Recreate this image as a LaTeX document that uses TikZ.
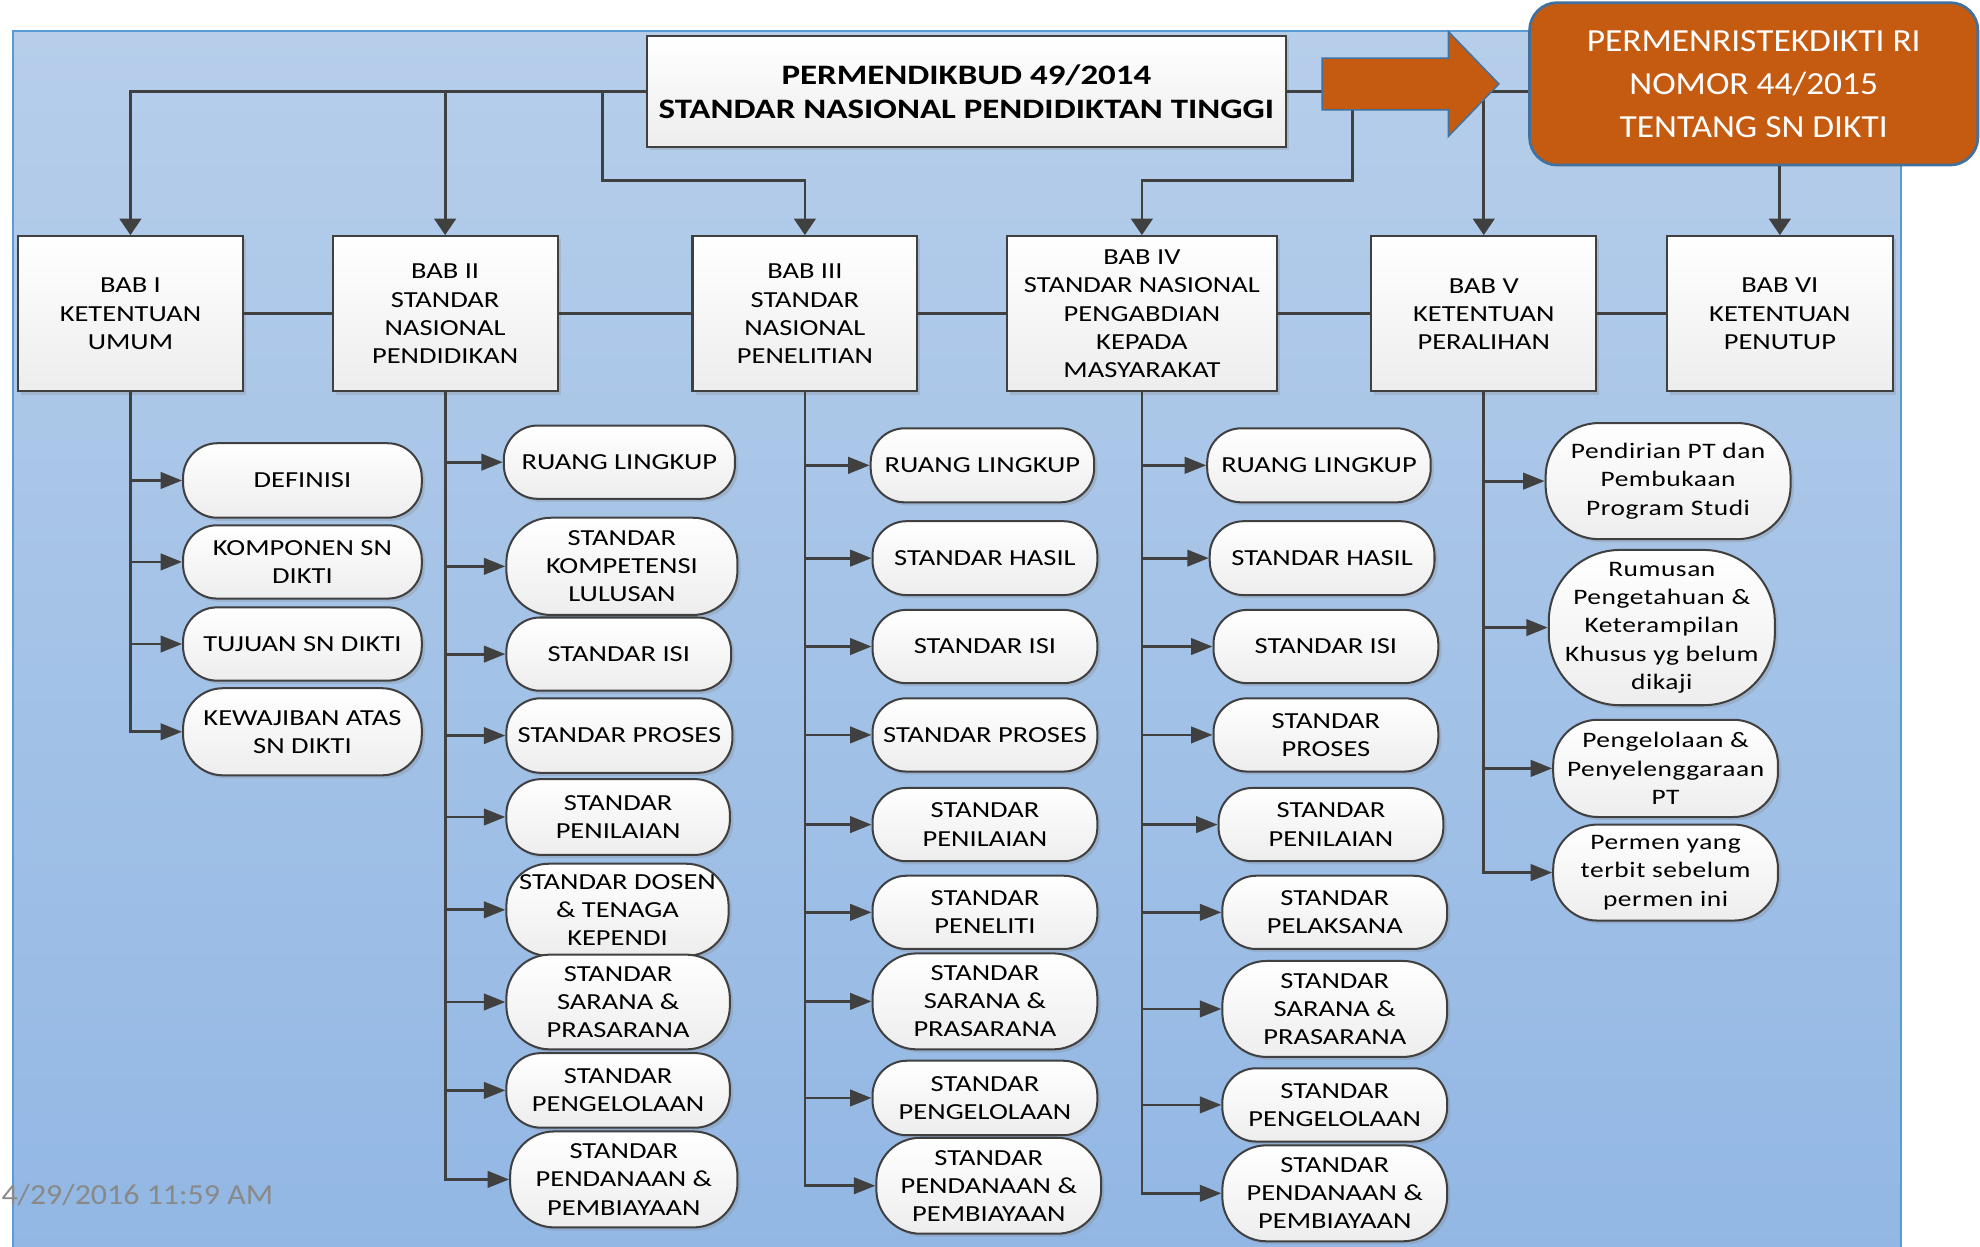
\documentclass[tikz,border=0pt]{standalone}
\usepackage{fontspec}
\setmainfont{Carlito}[FakeStretch=1.24]
\newfontfamily\widefont{Carlito}[FakeStretch=1.24,LetterSpace=2.5]
\newfontfamily\narrowfont{Carlito}[FakeStretch=1.1]
\usetikzlibrary{arrows.meta,shadows}
\definecolor{edge}{RGB}{64,64,64}
\definecolor{panelTop}{RGB}{182,206,234}
\definecolor{panelBot}{RGB}{146,183,228}
\definecolor{panelRim}{RGB}{91,155,213}
\definecolor{rust}{RGB}{197,90,17}
\definecolor{rustRim}{RGB}{65,113,156}
\definecolor{stampGray}{RGB}{137,137,137}
\begin{document}
\begin{tikzpicture}[x=1pt,y=-1pt,
	wire/.style={draw=edge, line width=2.2pt},
	down/.style={wire, -{Triangle[length=13pt,width=17pt]}},
	feed/.style={wire, -{Triangle[length=17pt,width=13pt]}},
	babbox/.style={draw=edge, line width=1.6pt, top color=white, bottom color=black!7, drop shadow={shadow xshift=2.5pt, shadow yshift=-2.5pt, opacity=.25}, align=center, inner sep=0pt, minimum height=123pt, font=\fontsize{18.2}{22.3}\selectfont},
	leaf/.style 2 args={draw=edge, line width=1.6pt, top color=white, bottom color=black!7, drop shadow={shadow xshift=2.5pt, shadow yshift=-2.5pt, opacity=.25}, align=center, inner sep=0pt, minimum width=#1, minimum height=#2, rounded corners=0.46*#2, font=\fontsize{18.2}{22.3}\selectfont},
	talk/.style={font=\widefont\fontsize{17.5}{22.4}\selectfont},
	newreg/.style={draw=rustRim, line width=2.2pt, fill=rust, rounded corners=22pt, text=white, align=center, inner sep=0pt, minimum width=355pt, minimum height=128.6pt, font=\narrowfont\fontsize{25.5}{34}\selectfont}]
	\useasboundingbox (0,0) rectangle (1568,987);
	\path[top color=panelTop, bottom color=panelBot, draw=panelRim, line width=1.5pt] (10,24.5) rectangle (1505.6,1000);
	\node[babbox, minimum width=505.5pt, minimum height=88pt, font=\bfseries\fontsize{22.3}{27}\selectfont] at (765.3,72.6) (old) {PERMENDIKBUD 49/2014\\STANDAR NASIONAL PENDIDIKTAN TINGGI};
	\node[newreg] at (1388.8,66.4) (sn) {PERMENRISTEKDIKTI RI\\NOMOR 44/2015\\TENTANG SN DIKTI};
	\node[babbox, minimum width=178.5pt] at (103.3,248.5) (b1) {BAB I\\KETENTUAN\\UMUM};
	\node[babbox, minimum width=178pt] at (352.5,248.5) (b2) {BAB II\\STANDAR\\NASIONAL\\PENDIDIKAN};
	\node[babbox, minimum width=178pt] at (637.4,248.5) (b3) {BAB III\\STANDAR\\NASIONAL\\PENELITIAN};
	\node[babbox, minimum width=213.5pt] at (904.3,248.5) (b4) {BAB IV\\STANDAR NASIONAL\\PENGABDIAN\\KEPADA\\MASYARAKAT};
	\node[babbox, minimum width=178.3pt] at (1175,248.5) (b5) {BAB V\\KETENTUAN\\PERALIHAN};
	\node[babbox, minimum width=179pt] at (1409.5,248.5) (b6) {BAB VI\\KETENTUAN\\PENUTUP};

	\node[leaf={189}{59}] at (239.5,380.5) (d1) {DEFINISI};
	\node[leaf={189}{58}] at (239.5,445) (d2) {KOMPONEN SN\\DIKTI};
	\node[leaf={189}{58}] at (239.5,510) (d3) {TUJUAN SN DIKTI};
	\node[leaf={189}{69}] at (239.5,579.5) (d4) {KEWAJIBAN ATAS\\SN DIKTI};

	\node[leaf={183}{58}] at (490.5,366) (e1) {RUANG LINGKUP};
	\node[leaf={183}{77}] at (492.5,448.5) (e2) {STANDAR\\KOMPETENSI\\LULUSAN};
	\node[leaf={178}{58}] at (490,518) (e3) {STANDAR ISI};
	\node[leaf={179}{59}] at (490.5,582.5) (e4) {STANDAR PROSES};
	\node[leaf={177}{60}] at (489.5,647) (e5) {STANDAR\\PENILAIAN};
	\node[leaf={176}{73}] at (489,720.5) (e6) {STANDAR DOSEN\\\& TENAGA\\KEPENDI};
	\node[leaf={177}{75}] at (489.5,793.5) (e7) {STANDAR\\SARANA \&\\PRASARANA};
	\node[leaf={177}{59}] at (489.5,863.5) (e8) {STANDAR\\PENGELOLAAN};
	\node[leaf={180}{76}] at (494,934) (e9) {STANDAR\\PENDANAAN \&\\PEMBIAYAAN};

	\node[leaf={177}{58.6}] at (778,368.5) (f1) {RUANG LINGKUP};
	\node[leaf={178}{58.5}] at (780,442) (f2) {STANDAR HASIL};
	\node[leaf={178}{58}] at (780,512) (f3) {STANDAR ISI};
	\node[leaf={178}{58}] at (780,582) (f4) {STANDAR PROSES};
	\node[leaf={178}{58}] at (780,653) (f5) {STANDAR\\PENILAIAN};
	\node[leaf={178}{58}] at (780,722.5) (f6) {STANDAR\\PENELITI};
	\node[leaf={178}{76}] at (780,793) (f7) {STANDAR\\SARANA \&\\PRASARANA};
	\node[leaf={178}{59}] at (780,869.5) (f8) {STANDAR\\PENGELOLAAN};
	\node[leaf={178}{76}] at (783,939) (f9) {STANDAR\\PENDANAAN \&\\PEMBIAYAAN};

	\node[leaf={177}{58.6}] at (1044.5,368.5) (g1) {RUANG LINGKUP};
	\node[leaf={178}{58.5}] at (1047,442) (g2) {STANDAR HASIL};
	\node[leaf={178}{58}] at (1050,512) (g3) {STANDAR ISI};
	\node[leaf={178}{58}] at (1050,582) (g4) {STANDAR\\PROSES};
	\node[leaf={178}{58}] at (1054,653) (g5) {STANDAR\\PENILAIAN};
	\node[leaf={178}{58}] at (1057,722.5) (g6) {STANDAR\\PELAKSANA};
	\node[leaf={178}{76}] at (1057,799) (g7) {STANDAR\\SARANA \&\\PRASARANA};
	\node[leaf={178}{58}] at (1057,875) (g8) {STANDAR\\PENGELOLAAN};
	\node[leaf={178}{76}] at (1057,945) (g9) {STANDAR\\PENDANAAN \&\\PEMBIAYAAN};

	\node[leaf={194}{92}, talk] at (1321,381) (h1) {Pendirian PT dan\\Pembukaan\\Program Studi};
	\node[leaf={179}{123}, talk] at (1316,497) (h2) {Rumusan\\Pengetahuan \&\\Keterampilan\\Khusus yg belum\\dikaji};
	\node[leaf={178}{77}, talk] at (1319,608.5) (h3) {Pengelolaan \&\\Penyelenggaraan\\PT};
	\node[leaf={178}{76}, talk] at (1319,691) (h4) {Permen yang\\terbit sebelum\\permen ini};

	\node[anchor=west, inner sep=0pt, text=stampGray, font=\narrowfont\fontsize{23}{24}\selectfont] at (1,946) (stamp) {4/29/2016 11:59 AM};

	\coordinate (j3) at (477,143);
	\coordinate (j4) at (1071,143);
	\draw[down] (old.west) -| (b1);
	\draw[down] (old.west) -| (b2);
	\draw[down] (old.west) -| (j3) -| (b3);
	\draw[down] (old.east) -| (j4) -| (b4);
	\draw[down] (old.east) -| (b5);
	\draw[wire] (old.east) -- (old.east -| sn.west);
	\draw[down] (sn.south -| b6) -- (b6);
	\draw[wire] (b1) -- (b2) -- (b3) -- (b4) -- (b5) -- (b6);
	\foreach \b/\c/\k in {b1/d/4, b2/e/9, b3/f/9, b4/g/9, b5/h/4}
		\foreach \i in {1,...,\k}
			\draw[feed] (\b.south) |- (\c\i);

	\filldraw[fill=rust, draw=rustRim, line width=1.2pt] (1047,46) -- (1147,46) -- (1147,25) -- (1187,66.5) -- (1147,108) -- (1147,87) -- (1047,87) -- cycle;
\end{tikzpicture}
\end{document}
